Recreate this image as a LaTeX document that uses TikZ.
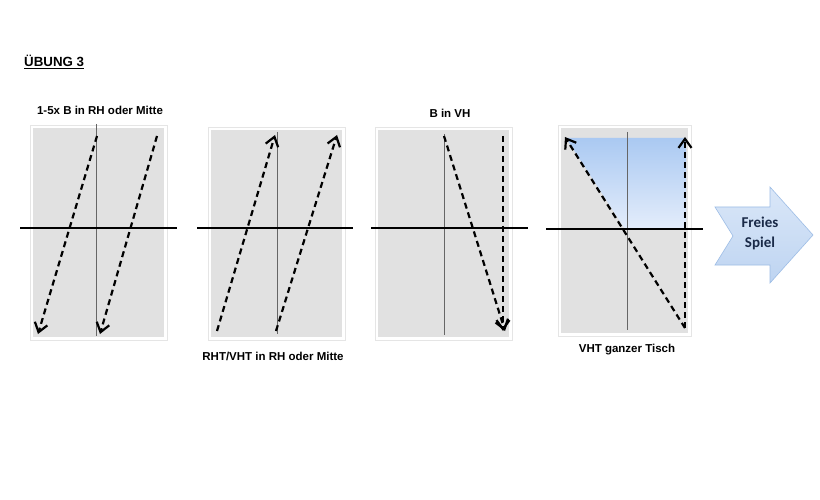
\documentclass[tikz,border=0pt]{standalone}
\usepackage{fontspec}
\setmainfont{Liberation Sans}
\newfontfamily\calibri{Carlito}
\usetikzlibrary{arrows.meta,shadings}
\definecolor{tgray}{HTML}{E1E1E1}
\definecolor{navytext}{HTML}{1A2A48}
\definecolor{arrowedge}{HTML}{9DBDE6}
\begin{document}
\begin{tikzpicture}[x=1pt,y=-1pt,
  frameshadow/.style={fill=black!15, draw=none},
  frameouter/.style={fill=white, draw=black!10, line width=0.5pt},
  tablegray/.style={fill=tgray, draw=none},
  midline/.style={draw=black!60, line width=0.6pt},
  netline/.style={draw=black, line width=2.3pt},
  ball/.style={draw=black, line width=2.2pt, dash pattern=on 6pt off 4pt,
    -{Straight Barb[length=9pt,width=13pt,line width=2.2pt]}},
  lbl/.style={font=\bfseries\fontsize{11.5}{13}\selectfont, inner sep=0pt, text=black},
  title/.style={font=\bfseries\fontsize{13.3}{15}\selectfont, inner sep=0pt, text=black}
]
\useasboundingbox[fill=white] (0,0) rectangle (820,500);

% title
\node[title, anchor=base west] (ttl) at (24,67) {\underline{ÜBUNG 3}};

% ---------- table 1 ----------
\fill[frameshadow] (31,127) rectangle (168,341);
\draw[frameouter] (30,125) rectangle (167,340);
\fill[tablegray] (33,128) rectangle (164,337);
\draw[midline] (96,124) -- (96,336);
\draw[netline] (20,228) -- (177,228);
\coordinate (a1s) at (97,136);
\coordinate (a1e) at (38,334);
\coordinate (a2s) at (157,136);
\coordinate (a2e) at (100,334);
\draw[ball] (a1s) -- (a1e);
\draw[ball] (a2s) -- (a2e);
\node[lbl] (l1) at (100,110) {1-5x B in RH oder Mitte};

% ---------- table 2 ----------
\fill[frameshadow] (209,129) rectangle (346,341);
\draw[frameouter] (208,127) rectangle (345,340);
\fill[tablegray] (211,130) rectangle (342,337);
\draw[midline] (277,132) -- (277,334);
\draw[netline] (197,228) -- (353,228);
\coordinate (b1s) at (217,331);
\coordinate (b1e) at (275,135);
\coordinate (b2s) at (276,331);
\coordinate (b2e) at (337,135);
\draw[ball] (b1s) -- (b1e);
\draw[ball] (b2s) -- (b2e);
\node[lbl] (l2) at (273,356) {RHT/VHT in RH oder Mitte};

% ---------- table 3 ----------
\fill[frameshadow] (376,129) rectangle (513,341);
\draw[frameouter] (375,127) rectangle (512,340);
\fill[tablegray] (378,130) rectangle (509,337);
\draw[midline] (444,134) -- (444,335);
\draw[netline] (371,228) -- (528,228);
\coordinate (c1s) at (444,136);
\coordinate (c1e) at (505,331);
\coordinate (c2s) at (503,136);
\coordinate (c2e) at (503,331);
\draw[ball] (c1s) -- (c1e);
\draw[ball] (c2s) -- (c2e);
\node[lbl] (l3) at (450,113) {B in VH};

% ---------- table 4 ----------
\fill[frameshadow] (559,127) rectangle (692,337);
\draw[frameouter] (558,125) rectangle (691,336);
\fill[tablegray] (561,128) rectangle (688,333);
\shade[top color={rgb,255:red,170;green,201;blue,242}, bottom color={rgb,255:red,228;green,237;blue,251}]
  (566,138) -- (686,138) -- (686,229) -- (625,229) -- cycle;
\draw[midline] (627,132) -- (627,330);
\draw[netline] (546,229) -- (703,229);
\coordinate (d0) at (685,328);
\coordinate (d1e) at (565,137);
\coordinate (d2e) at (685,137);
\draw[ball] (d0) -- (d1e);
\draw[ball] (d0) -- (d2e);
\node[lbl] (l4) at (627,350) {VHT ganzer Tisch};

% ---------- Freies Spiel arrow ----------
\shade[top color={rgb,255:red,218;green,231;blue,248}, bottom color={rgb,255:red,190;green,212;blue,241}, draw=arrowedge, line width=0.6pt]
  (715,207) -- (770,207) -- (770,187) -- (813,235) -- (770,283) -- (770,265) -- (715,265) -- (733,236) -- cycle;
\node[font=\calibri\bfseries\fontsize{15}{20}\selectfont, text=navytext, align=center, inner sep=0pt] (fs) at (760,233) {Freies\\Spiel};
\end{tikzpicture}
\end{document}
